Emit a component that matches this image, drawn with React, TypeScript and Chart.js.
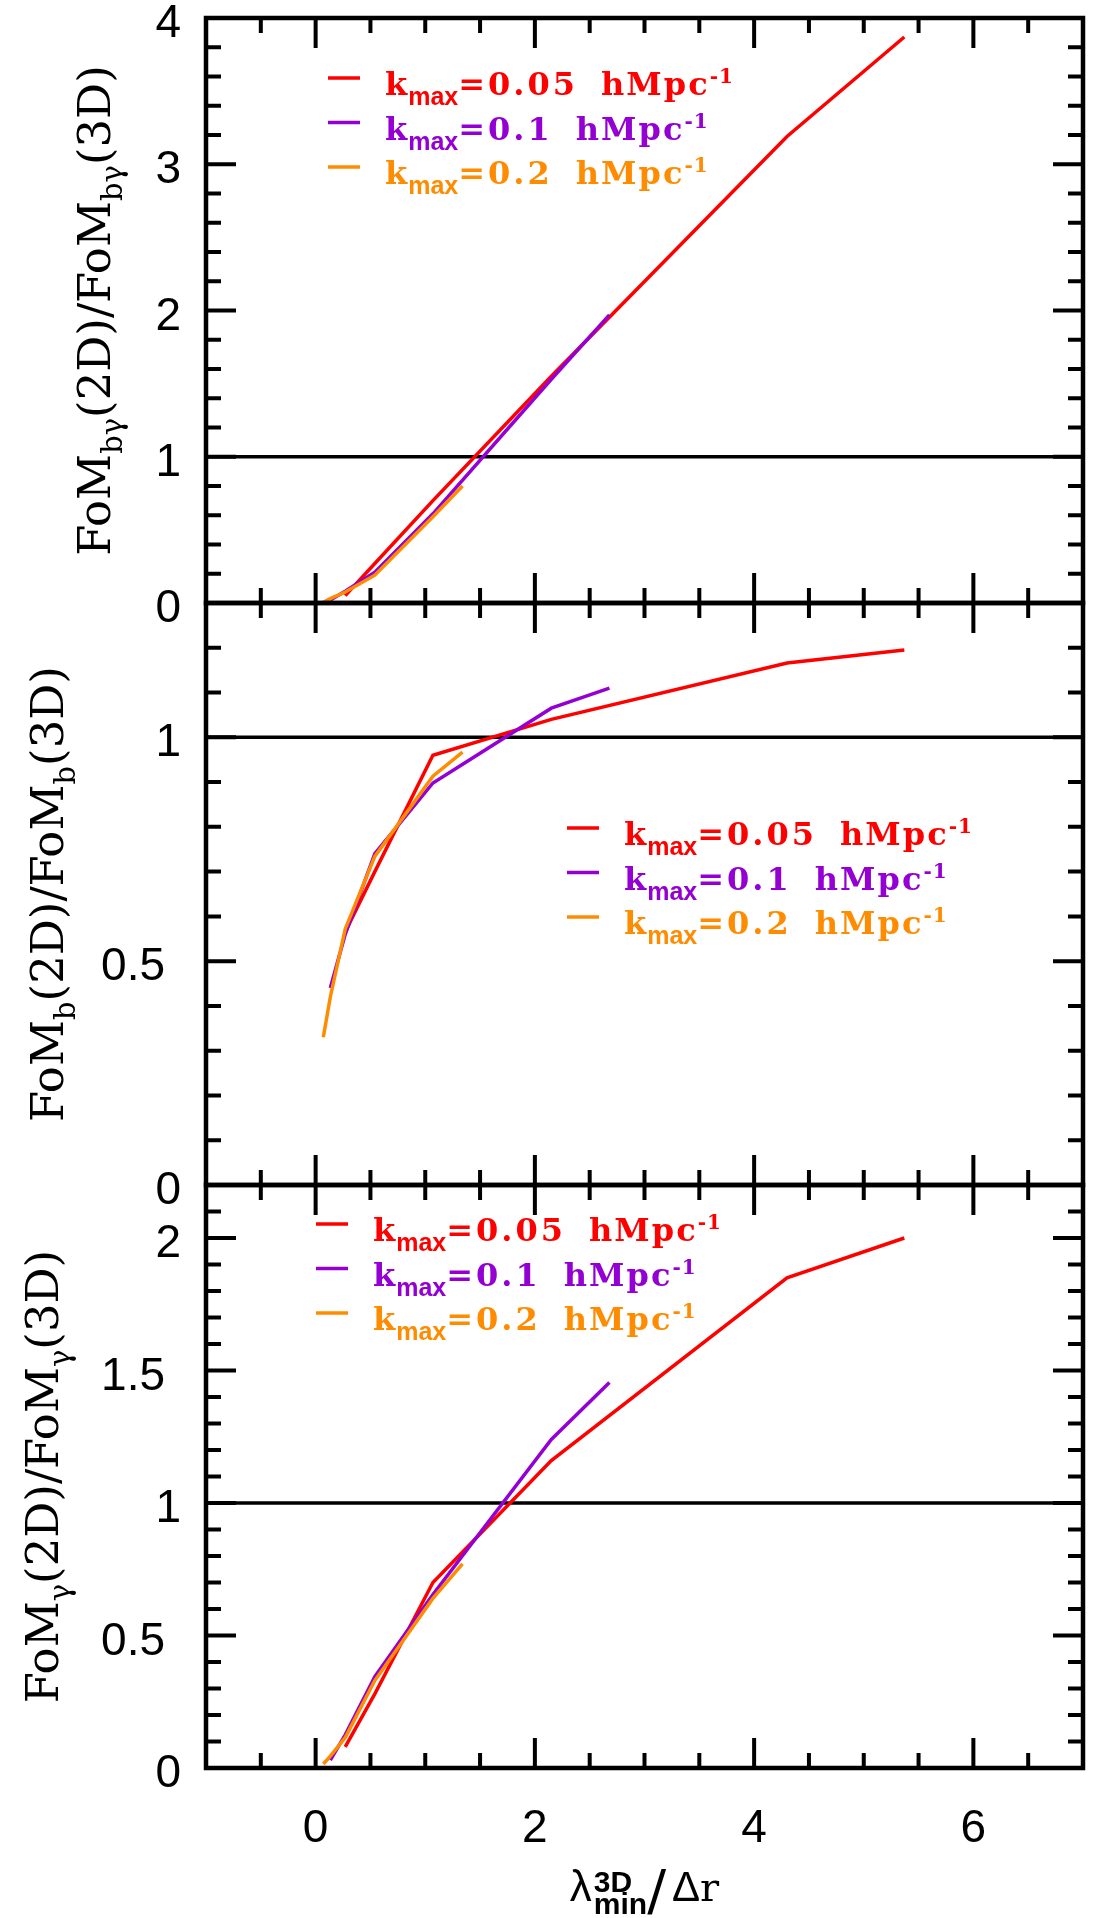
import React, { useEffect, useRef } from "react";
import { Chart, registerables } from "chart.js";

Chart.register(...registerables);

const CANVAS_W = 1105;
const CANVAS_H = 1918;

// λ_min^3D / Δr sampled for each k_max
const xKmax005 = [0.27, 0.54, 1.07, 2.15, 4.3, 5.37];
const xKmax01 = [0.134, 0.27, 0.54, 1.07, 2.15, 2.68];
const xKmax02 = [0.07, 0.134, 0.27, 0.54, 1.07, 1.34];

// FoM_bγ(2D) / FoM_bγ(3D)
const fomBGKmax005 = [0.05, 0.27, 0.7, 1.55, 3.19, 3.87];
const fomBGKmax01 = [0.02, 0.08, 0.21, 0.61, 1.53, 1.97];
const fomBGKmax02 = [0.005, 0.03, 0.075, 0.19, 0.59, 0.8];

// FoM_b(2D) / FoM_b(3D)
const fomBKmax005 = [0.565, 0.7, 0.96, 1.04, 1.166, 1.195];
const fomBKmax01 = [0.44, 0.56, 0.74, 0.898, 1.065, 1.11];
const fomBKmax02 = [0.33, 0.42, 0.572, 0.734, 0.913, 0.967];

// FoM_γ(2D) / FoM_γ(3D)
const fomGKmax005 = [0.08, 0.28, 0.7, 1.16, 1.85, 2.0];
const fomGKmax01 = [0.03, 0.125, 0.345, 0.655, 1.24, 1.455];
const fomGKmax02 = [0.015, 0.045, 0.115, 0.33, 0.64, 0.77];

const kmaxLabels = ["0.05", "0.1", "0.2"];
const kmaxColors = ["#ff0000", "#9400d3", "#ff8c00"];

const xTickLabels = ["0", "2", "4", "6"];
const yTickLabelsBG = ["0", "1", "2", "3", "4"];
const yTickLabelsB = ["0", "0.5", "1"];
const yTickLabelsG = ["0", "0.5", "1", "1.5", "2"];

const X_MIN = -1;
const X_MAX = 7;
const PLOT_LEFT = 206;
const PLOT_RIGHT = 1083;
const MAJOR_TICK = 30;
const MINOR_TICK = 15;
const LABEL_RIGHT = 181;

const TICK_FONT = '46px "Liberation Sans", Arial, sans-serif';
const TITLE_FONT = '45px "DejaVu Serif", serif';
const TITLE_SUB_FONT = '29px "DejaVu Serif", serif';
const LEGEND_MAIN = 'bold 32px "DejaVu Serif", serif';
const LEGEND_SUB = 'bold 25px "Liberation Sans", Arial, sans-serif';
const LEGEND_SUP = 'bold 20px "DejaVu Serif", serif';

type Run = { t: string; font: string; dy?: number; gap?: number; hold?: boolean; ls?: number };

type Panel = {
  top: number;
  bottom: number;
  yMin: number;
  yMax: number;
  yMajor: number;
  yMinor: number;
  yLabels: string[];
  series: number[][];
  xs: number[][];
  titleRuns: Run[];
  titleX: number;
  legend: { lineX: number; textX: number; rowY: number };
  showX: boolean;
};

function titleRuns(sub: string): Run[] {
  return [
    { t: "FoM", font: TITLE_FONT },
    { t: sub, font: TITLE_SUB_FONT, dy: 12 },
    { t: "(2D)/FoM", font: TITLE_FONT },
    { t: sub, font: TITLE_SUB_FONT, dy: 12 },
    { t: "(3D)", font: TITLE_FONT },
  ];
}

const panels: Panel[] = [
  {
    top: 18,
    bottom: 603,
    yMin: 0,
    yMax: 4,
    yMajor: 1,
    yMinor: 0.2,
    yLabels: yTickLabelsBG,
    series: [fomBGKmax005, fomBGKmax01, fomBGKmax02],
    xs: [xKmax005, xKmax01, xKmax02],
    titleRuns: titleRuns("bγ"),
    titleX: 110,
    legend: { lineX: 328, textX: 385, rowY: 78 },
    showX: false,
  },
  {
    top: 603,
    bottom: 1185,
    yMin: 0,
    yMax: 1.3,
    yMajor: 0.5,
    yMinor: 0.1,
    yLabels: yTickLabelsB,
    series: [fomBKmax005, fomBKmax01, fomBKmax02],
    xs: [xKmax005, xKmax01, xKmax02],
    titleRuns: titleRuns("b"),
    titleX: 63,
    legend: { lineX: 567, textX: 624, rowY: 828 },
    showX: false,
  },
  {
    top: 1185,
    bottom: 1768,
    yMin: 0,
    yMax: 2.2,
    yMajor: 0.5,
    yMinor: 0.1,
    yLabels: yTickLabelsG,
    series: [fomGKmax005, fomGKmax01, fomGKmax02],
    xs: [xKmax005, xKmax01, xKmax02],
    titleRuns: titleRuns("γ"),
    titleX: 58,
    legend: { lineX: 316, textX: 373, rowY: 1224 },
    showX: true,
  },
];

function measureRuns(ctx: CanvasRenderingContext2D, runs: Run[]): number {
  let w = 0;
  let held = 0;
  for (const r of runs) {
    ctx.font = r.font;
    const rw = ctx.measureText(r.t).width + (r.ls ?? 0) * r.t.length;
    if (r.hold) {
      held = rw;
      continue;
    }
    w += Math.max(rw, held) + (r.gap ?? 0);
    held = 0;
  }
  return w;
}

function drawRuns(ctx: CanvasRenderingContext2D, runs: Run[], x: number, y: number) {
  let cx = x;
  let held = 0;
  for (const r of runs) {
    ctx.font = r.font;
    (ctx as any).letterSpacing = `${r.ls ?? 0}px`;
    ctx.fillText(r.t, cx, y + (r.dy ?? 0));
    const rw = ctx.measureText(r.t).width;
    if (r.hold) {
      held = rw;
      continue;
    }
    cx += Math.max(rw, held) + (r.gap ?? 0);
    held = 0;
  }
  (ctx as any).letterSpacing = "0px";
}

function decorPlugin(p: Panel) {
  return {
    id: "panelDecor",
    afterDatasetsDraw(chart: Chart) {
      const { ctx, chartArea: a } = chart;
      const xs = chart.scales.x;
      const ys = chart.scales.y;
      ctx.save();
      ctx.strokeStyle = "#000";
      ctx.fillStyle = "#000";
      ctx.lineCap = "butt";

      // inward tick marks on all four sides
      ctx.lineWidth = 4;
      ctx.beginPath();
      for (let k = -1; k <= 13; k++) {
        const v = k / 2;
        if (v <= X_MIN || v >= X_MAX) continue;
        const px = xs.getPixelForValue(v);
        const len = k % 4 === 0 ? MAJOR_TICK : MINOR_TICK;
        ctx.moveTo(px, a.bottom);
        ctx.lineTo(px, a.bottom - len);
        ctx.moveTo(px, a.top);
        ctx.lineTo(px, a.top + len);
      }
      const nY = Math.round((p.yMax - p.yMin) / p.yMinor);
      const per = Math.round(p.yMajor / p.yMinor);
      for (let k = 1; k < nY; k++) {
        const py = ys.getPixelForValue(p.yMin + k * p.yMinor);
        const len = k % per === 0 ? MAJOR_TICK : MINOR_TICK;
        ctx.moveTo(a.left, py);
        ctx.lineTo(a.left + len, py);
        ctx.moveTo(a.right, py);
        ctx.lineTo(a.right - len, py);
      }
      ctx.stroke();

      // frame
      ctx.lineWidth = 4.5;
      ctx.strokeRect(a.left, a.top, a.right - a.left, a.bottom - a.top);

      // y tick labels
      ctx.font = TICK_FONT;
      ctx.textAlign = "right";
      ctx.textBaseline = "alphabetic";
      for (const lab of p.yLabels) {
        const py = ys.getPixelForValue(Number(lab));
        const rx = lab.includes(".") ? LABEL_RIGHT - 16 : LABEL_RIGHT;
        ctx.fillText(lab, rx, py + 19);
      }

      // x tick labels and axis title
      if (p.showX) {
        ctx.textAlign = "center";
        for (const lab of xTickLabels) {
          ctx.fillText(lab, xs.getPixelForValue(Number(lab)), a.bottom + 74);
        }
        const xt: Run[] = [
          { t: "λ", font: '44px "Liberation Sans", Arial, sans-serif', gap: 2 },
          { t: "3D", font: 'bold 30px "Liberation Sans", Arial, sans-serif', dy: -9, hold: true },
          { t: "min", font: 'bold 30px "Liberation Sans", Arial, sans-serif', dy: 13 },
          { t: "/", font: '56px "DejaVu Sans", sans-serif', dy: 8, gap: 6 },
          { t: "Δ", font: '42px "Liberation Sans", Arial, sans-serif' },
          { t: "r", font: '40px "DejaVu Serif", serif' },
        ];
        ctx.textAlign = "left";
        const w = measureRuns(ctx, xt);
        drawRuns(ctx, xt, (a.left + a.right) / 2 - w / 2, 1901);
      }

      // rotated y-axis title
      ctx.save();
      ctx.textAlign = "left";
      ctx.translate(p.titleX, (a.top + a.bottom) / 2);
      ctx.rotate(-Math.PI / 2);
      const tw = measureRuns(ctx, p.titleRuns);
      drawRuns(ctx, p.titleRuns, -tw / 2, 0);
      ctx.restore();

      // legend
      ctx.textAlign = "left";
      kmaxLabels.forEach((v, i) => {
        const y = p.legend.rowY + i * 44.5;
        ctx.strokeStyle = kmaxColors[i];
        ctx.fillStyle = kmaxColors[i];
        ctx.lineWidth = 3.5;
        ctx.beginPath();
        ctx.moveTo(p.legend.lineX, y);
        ctx.lineTo(p.legend.lineX + 32, y);
        ctx.stroke();
        const runs: Run[] = [
          { t: "k", font: LEGEND_MAIN, ls: 1 },
          { t: "max", font: LEGEND_SUB, dy: 10 },
          { t: "=" + v, font: LEGEND_MAIN, ls: 3, gap: 10 },
          { t: " hMpc", font: LEGEND_MAIN, ls: 2 },
          { t: "-1", font: LEGEND_SUP, dy: -12, ls: 1 },
        ];
        drawRuns(ctx, runs, p.legend.textX, y + 17);
      });

      ctx.restore();
    },
  };
}

function buildConfig(p: Panel): any {
  const datasets = [2, 1, 0].map((i) => ({
    label: `k_max=${kmaxLabels[i]} hMpc^-1`,
    data: p.xs[i].map((x, j) => ({ x, y: p.series[i][j] })),
    borderColor: kmaxColors[i],
    borderWidth: 3.5,
    pointRadius: 0,
    tension: 0,
    fill: false,
  }));
  datasets.push({
    label: "unity",
    data: [
      { x: X_MIN, y: 1 },
      { x: X_MAX, y: 1 },
    ],
    borderColor: "#000000",
    borderWidth: 3.5,
    pointRadius: 0,
    tension: 0,
    fill: false,
  });
  return {
    type: "line",
    data: { datasets },
    options: {
      responsive: false,
      maintainAspectRatio: false,
      animation: false,
      devicePixelRatio: 1,
      events: [],
      layout: {
        padding: {
          left: PLOT_LEFT,
          right: CANVAS_W - PLOT_RIGHT,
          top: p.top,
          bottom: CANVAS_H - p.bottom,
        },
      },
      scales: {
        x: { type: "linear", min: X_MIN, max: X_MAX, display: false },
        y: { type: "linear", min: p.yMin, max: p.yMax, display: false },
      },
      plugins: {
        legend: { display: false },
        tooltip: { enabled: false },
        title: { display: false },
      },
    },
    plugins: [decorPlugin(p)],
  };
}

function PanelChart({ panel }: { panel: Panel }) {
  const ref = useRef<HTMLCanvasElement | null>(null);
  useEffect(() => {
    if (!ref.current) return;
    const chart = new Chart(ref.current, buildConfig(panel));
    return () => chart.destroy();
  }, [panel]);
  return (
    <canvas
      ref={ref}
      width={CANVAS_W}
      height={CANVAS_H}
      style={{ position: "absolute", left: 0, top: 0 }}
    />
  );
}

export default function App() {
  return (
    <div
      style={{
        position: "absolute",
        left: 0,
        top: 0,
        width: CANVAS_W,
        height: CANVAS_H,
        background: "#ffffff",
      }}
    >
      {panels.map((p, i) => (
        <PanelChart key={i} panel={p} />
      ))}
    </div>
  );
}
